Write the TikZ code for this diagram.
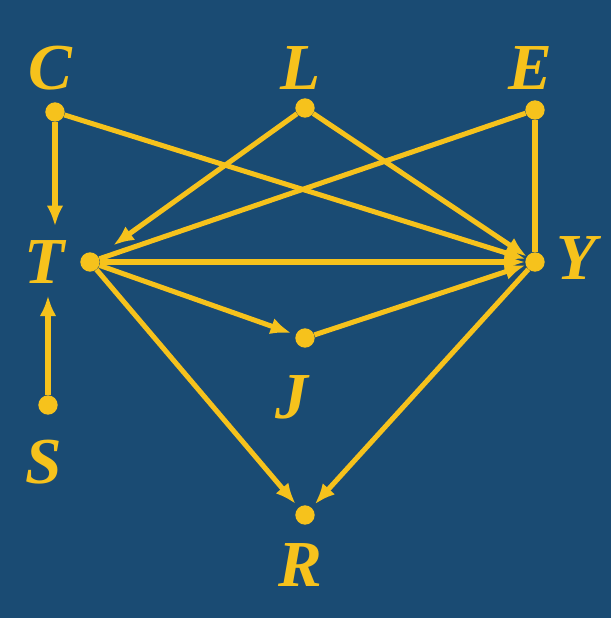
\documentclass[tikz,border=0pt]{standalone}
\usepackage{fontspec}
\setmainfont{Liberation Serif}
\usetikzlibrary{arrows.meta}
\definecolor{bgblue}{HTML}{1A4B73}
\definecolor{gold}{HTML}{F6C21C}

\begin{document}
\begin{tikzpicture}[x=0.03cm, y=-0.03cm,
  dot/.style={circle, fill=gold, inner sep=0pt, minimum size=0.58cm},
  lbl/.style={text=gold, inner sep=0pt, font=\fontsize{56}{56}\selectfont\bfseries\itshape},
  arc/.style={draw=gold, line width=4.3pt, -{Latex[length=0.62cm,width=0.5cm]}},
  link/.style={draw=gold, line width=4.3pt}]
  \fill[bgblue] (0,0) rectangle (611,618);
  % dots
  \node[dot] (c) at (55,112) {};
  \node[dot] (l) at (305,108) {};
  \node[dot] (e) at (535,110) {};
  \node[dot] (t) at (90,262) {};
  \node[dot] (y) at (535,262) {};
  \node[dot] (j) at (305,338) {};
  \node[dot] (s) at (48,405) {};
  \node[dot] (r) at (305,515) {};
  % letters
  \node[lbl] (cl) at (50,68) {C};
  \node[lbl] (ll) at (301,68) {L};
  \node[lbl] (el) at (530,68) {E};
  \node[lbl] (tl) at (45,262) {T};
  \node[lbl] (yl) at (577,258) {Y};
  \node[lbl] (jl) at (292,397) {J};
  \node[lbl] (sl) at (44,462) {S};
  \node[lbl] (rl) at (300,565) {R};
  % connectors
  \foreach \from/\to/\gap in {c/y/0, l/y/0, t/y/0, j/y/0, l/t/16, t/j/4, t/r/4, y/r/4}
    \draw[arc, shorten >=\gap] (\from) -- (\to);
  \draw[arc, shorten >=12] (c) -- (c |- tl.north);
  \draw[arc, shorten >=10] (s) -- (s |- tl.south);
  \draw[link] (e) -- (t);
  \draw[link] (e) -- (y);
\end{tikzpicture}
\end{document}
